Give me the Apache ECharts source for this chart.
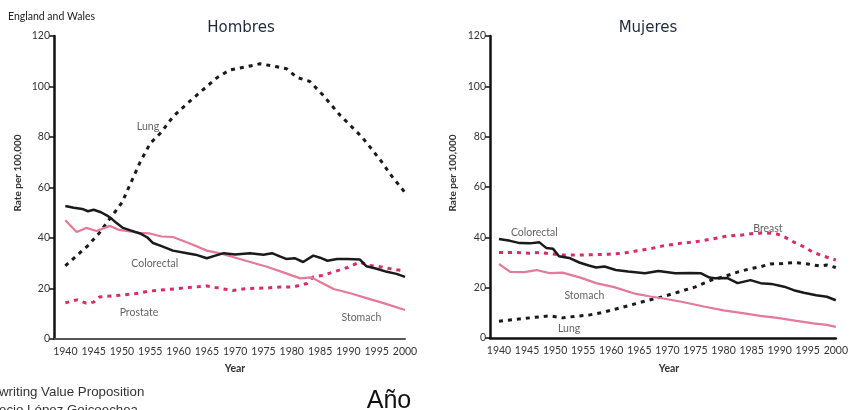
<!DOCTYPE html>
<html>
<head>
<meta charset="utf-8">
<script src="https://cdn.jsdelivr.net/npm/echarts@6/dist/echarts.min.js"></script>
<style>
html,body{margin:0;padding:0;background:#fff;}
#chart{width:851px;height:410px;}
</style>
</head>
<body>
<div id="chart"></div>
<script>
// ---- Data (year, rate per 100,000) ----
var yearTicks = [1940,1945,1950,1955,1960,1965,1970,1975,1980,1985,1990,1995,2000];
var rateTicks = [0,20,40,60,80,100,120];

// Hombres (men)
var menLung = [[1940,29],[1942,33],[1944,37],[1946,42],[1947.3,46],[1949,51],[1950,54],[1951.6,62],[1953.2,70],[1955,77.5],[1957,82],[1959,88],[1961.4,93],[1964.2,98.5],[1966.8,103.5],[1969,106.5],[1972,107.8],[1974.4,109],[1977.4,107.8],[1979.1,107],[1980.9,103.6],[1983.2,102],[1985.5,96.6],[1988.5,88.7],[1992.4,80],[1995.6,71],[1997.7,64.4],[2000,58]];
var menColorectal = [[1940,52.7],[1941.5,52],[1943,51.5],[1944,50.6],[1945,51.2],[1946.3,50.2],[1947.3,49],[1948.2,47.6],[1949,46],[1950.2,44],[1951.5,43],[1953.2,41.8],[1954.5,40.2],[1955.5,38],[1957,36.8],[1959,35],[1961.5,34],[1963,33.4],[1965,32],[1966.5,33],[1968,34],[1970,33.5],[1972.6,34],[1975,33.4],[1976.5,34],[1978,32.6],[1979,31.7],[1980.5,32],[1982,30.5],[1983.8,33],[1985,32.2],[1986.3,31],[1988,31.7],[1989.8,31.7],[1992,31.5],[1993.2,28.8],[1995,27.8],[1996.8,26.6],[1998.5,25.8],[2000,24.6]];
var menStomach = [[1940,47],[1942,42.4],[1943.7,44],[1945.5,42.8],[1947.9,44.8],[1949.5,43.2],[1951.4,42.6],[1953,42],[1954.9,41.8],[1957,40.6],[1959,40.4],[1962,37.8],[1965,35],[1967.5,33.8],[1969.6,32.5],[1972.5,30.6],[1975.6,28.6],[1978.5,26.4],[1981.5,24],[1983.5,24.4],[1985,22.6],[1987.4,19.8],[1990.5,18],[1993.2,16.2],[1996.5,14],[2000,11.5]];
var menProstate = [[1940,14.3],[1942,15.5],[1943.7,14.2],[1945,14.6],[1946,16.6],[1948,17],[1950,17.4],[1952.5,18],[1955,19],[1958,19.6],[1961.4,20.3],[1963,20.6],[1965,21],[1967.5,20],[1969.6,19.2],[1972,20],[1975.6,20.2],[1978,20.6],[1980.3,20.6],[1982.7,22],[1983.8,24.6],[1985.5,25.2],[1987.4,26.6],[1990,28.4],[1992,30.5],[1993.5,29.2],[1995.6,28.6],[1998,27.6],[2000,27]];

// Mujeres (women)
var womenColorectal = [[1940,39.3],[1942,38.6],[1943.7,37.7],[1945.5,37.6],[1947.2,38],[1948.4,35.8],[1949.6,35.5],[1950.7,32.5],[1952.5,31.8],[1954.3,30],[1956,28.8],[1957.3,28],[1958.8,28.4],[1960.8,27],[1963,26.4],[1966,25.7],[1968.4,26.6],[1971.4,25.7],[1974,25.8],[1976,25.7],[1977.5,24],[1978.4,23.7],[1980.7,23.8],[1982.5,21.8],[1984.8,23],[1986.6,21.8],[1988.5,21.5],[1990.8,20.4],[1992.5,19],[1994.3,18],[1996.5,17],[1998.4,16.4],[2000,15]];
var womenStomach = [[1940,29.4],[1942,26.3],[1944.5,26.2],[1946.7,27],[1949,25.8],[1951.3,26],[1954.5,24],[1957.3,21.8],[1960.5,20.2],[1964.4,17.5],[1967,16.5],[1969,15.8],[1972.5,14.4],[1976.7,12.4],[1980,11],[1983.7,9.8],[1986.5,8.8],[1989.6,8],[1993,6.8],[1996,5.8],[1998.4,5.2],[2000,4.4]];
var womenLung = [[1940,6.7],[1943,7.4],[1945.5,8],[1949,8.8],[1951.3,8],[1953.5,8.6],[1956,9.1],[1958.5,10.2],[1960.8,11.5],[1963,12.8],[1965.4,14.3],[1969,16.3],[1972,18.3],[1975,20.3],[1977.8,23],[1980,24.3],[1982.5,26.2],[1984.5,27.4],[1986.6,28.3],[1988.3,29.4],[1990.5,29.6],[1992.6,30],[1995,29.4],[1997.2,28.6],[1998.4,29],[2000,28]];
var womenBreast = [[1940,34],[1943,34],[1945.5,33.7],[1947.2,34],[1949,33.5],[1951.3,33],[1955,33],[1959.6,33.3],[1962,33.6],[1964.4,34.6],[1967,35.5],[1969,36.5],[1972.5,37.7],[1975,38.2],[1977.8,39.3],[1980.7,40.5],[1983,40.8],[1985.5,41.6],[1987.5,41.8],[1989.6,41.3],[1991,40],[1992.6,38],[1994.5,36],[1996,34],[1998,32.4],[2000,31]];

// Series annotation labels: [text, year, rate]
var menLabels = [['Lung',1954.6,84],['Colorectal',1955.8,29.7],['Prostate',1953,10.3],['Stomach',1992.3,8.3]];
var womenLabels = [['Colorectal',1946.3,42],['Breast',1987.9,43.6],['Stomach',1955.2,17],['Lung',1952.5,3.6]];

// ---- Styles ----
var BLACK = '#1a1a1a';
var PINK_SOLID = '#e5799a';
var PINK_DOT = '#dc2a63';
var FONT = 'Lato, "Open Sans", sans-serif';

function lineSeries(data, gi, color, width, dashed) {
  return {
    type: 'line', xAxisIndex: gi, yAxisIndex: gi, data: data,
    showSymbol: false, smooth: false, silent: true,
    lineStyle: { color: color, width: width, type: dashed ? [4, 5] : 'solid', cap: 'butt' }
  };
}
function labelSeries(labels, gi) {
  return {
    type: 'scatter', xAxisIndex: gi, yAxisIndex: gi, symbolSize: 0, silent: true,
    data: labels.map(function (l) { return { value: [l[1], l[2]], name: l[0] }; }),
    label: { show: true, position: 'inside', formatter: '{b}', color: '#3a3a3a',
             fontFamily: FONT, fontSize: 10.5 }
  };
}
function xAxisCfg(gi, min, lineColor, lineWidth) {
  return {
    type: 'value', gridIndex: gi, min: min, max: 2000,
    axisLine: { show: true, onZero: false, lineStyle: { color: lineColor, width: lineWidth } },
    axisTick: { show: false, customValues: yearTicks },
    axisLabel: { customValues: yearTicks, formatter: function (v) { return String(v); },
                 color: '#333', fontFamily: FONT, fontSize: 10.5, margin: 7 },
    splitLine: { show: false }
  };
}
function yAxisCfg(gi) {
  return {
    type: 'value', gridIndex: gi, min: 0, max: 120, interval: 20,
    axisLine: { show: true, lineStyle: { color: '#111', width: 2.5 } },
    axisTick: { show: true, length: 5, lineStyle: { color: '#111', width: 1.5 } },
    axisLabel: { color: '#333', fontFamily: FONT, fontSize: 10.5, margin: 4 },
    splitLine: { show: false }
  };
}

var chart = echarts.init(document.getElementById('chart'), null, { renderer: 'canvas' });
chart.setOption({
  backgroundColor: '#ffffff',
  animation: false,
  grid: [
    { left: 54, top: 36, width: 351, height: 303 },
    { left: 490, top: 36, width: 349, height: 302 }
  ],
  xAxis: [xAxisCfg(0, 1938, '#555', 2), xAxisCfg(1, 1938.4, '#111', 2.5)],
  yAxis: [yAxisCfg(0), yAxisCfg(1)],
  series: [
    lineSeries(menLung, 0, BLACK, 3, true),
    lineSeries(menProstate, 0, PINK_DOT, 3, true),
    lineSeries(menStomach, 0, PINK_SOLID, 2.2, false),
    lineSeries(menColorectal, 0, BLACK, 2.5, false),
    labelSeries(menLabels, 0),
    lineSeries(womenLung, 1, BLACK, 3, true),
    lineSeries(womenBreast, 1, PINK_DOT, 3, true),
    lineSeries(womenStomach, 1, PINK_SOLID, 2.2, false),
    lineSeries(womenColorectal, 1, BLACK, 2.5, false),
    labelSeries(womenLabels, 1)
  ],
  graphic: [
    { type: 'text', x: 8, y: 17, style: { text: 'England and Wales', font: '10.5px ' + FONT, fill: '#222', textVerticalAlign: 'middle' } },
    { type: 'text', x: 241, y: 28, style: { text: 'Hombres', font: '15px "DejaVu Sans", sans-serif', fill: '#1e2a3c', textAlign: 'center', textVerticalAlign: 'middle' } },
    { type: 'text', x: 648, y: 28, style: { text: 'Mujeres', font: '15px "DejaVu Sans", sans-serif', fill: '#1e2a3c', textAlign: 'center', textVerticalAlign: 'middle' } },
    { type: 'text', x: 18, y: 173, rotation: Math.PI / 2, style: { text: 'Rate per 100,000', font: 'bold 10px ' + FONT, fill: '#333', textAlign: 'center', textVerticalAlign: 'middle' } },
    { type: 'text', x: 453, y: 173, rotation: Math.PI / 2, style: { text: 'Rate per 100,000', font: 'bold 10px ' + FONT, fill: '#333', textAlign: 'center', textVerticalAlign: 'middle' } },
    { type: 'text', x: 235, y: 369, style: { text: 'Year', font: 'bold 10.5px ' + FONT, fill: '#333', textAlign: 'center', textVerticalAlign: 'middle' } },
    { type: 'text', x: 669, y: 369, style: { text: 'Year', font: 'bold 10.5px ' + FONT, fill: '#333', textAlign: 'center', textVerticalAlign: 'middle' } },
    { type: 'text', x: -1, y: 392, style: { text: 'writing Value Proposition', font: '13.3px "Liberation Sans", Arial, sans-serif', fill: '#333', textAlign: 'left', textVerticalAlign: 'middle' } },
    { type: 'text', x: -1, y: 410, style: { text: 'ecio López Goicoechea', font: '13.3px "Liberation Sans", Arial, sans-serif', fill: '#333', textAlign: 'left', textVerticalAlign: 'middle' } },
    { type: 'text', x: 389, y: 401, style: { text: 'Año', font: '25px "Liberation Sans", Arial, sans-serif', fill: '#111', textAlign: 'center', textVerticalAlign: 'middle' } }
  ]
});
</script>
</body>
</html>
